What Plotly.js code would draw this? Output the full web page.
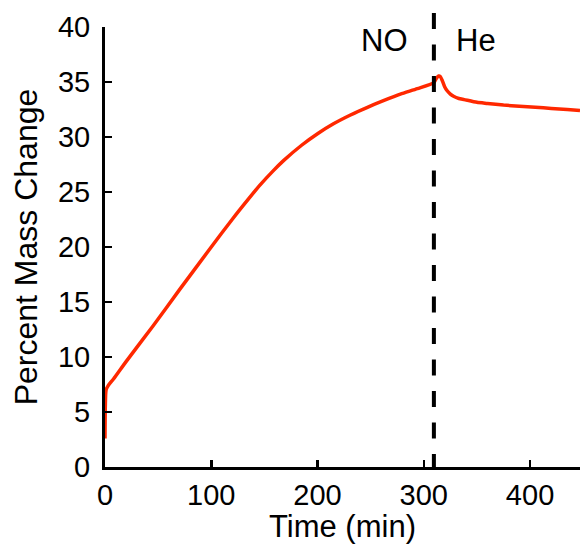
<!DOCTYPE html>
<html>
<head>
<meta charset="utf-8">
<script src="https://cdn.plot.ly/plotly-3.0.1.min.js"></script>
<style>html,body{margin:0;padding:0;background:#fff;}#chart{width:580px;height:544px;}</style>
</head>
<body>
<div id="chart"></div>
<script>
// Time (min)
const timeMin = [0, 0.3, 1, 3, 8, 20, 45, 70, 100, 120, 137, 146, 158, 168, 185, 200, 215, 231, 247, 262, 278, 294, 309.5,
  312, 314, 315.5, 317.5, 319.5, 322, 325, 328, 333, 338, 350, 360, 375, 390, 405, 420, 435, 447];
// Percent Mass Change
const massChange = [2.6, 5.5, 7.0, 7.4, 8.0, 9.6, 12.8, 16.1, 20.0, 22.55, 24.6, 25.65, 26.9, 27.85, 29.25, 30.3, 31.2, 32.0, 32.7, 33.3, 33.9, 34.4, 34.95,
  35.35, 35.55, 35.5, 35.1, 34.6, 34.2, 33.9, 33.7, 33.5, 33.4, 33.15, 33.05, 32.9, 32.8, 32.7, 32.6, 32.5, 32.4];
const switchTime = 309.5;
const gasLabels = ["NO", "He"];
const gasLabelX = [263, 349];

const font = "'Liberation Sans', Arial, Helvetica, sans-serif";

const trace = {
  x: timeMin, y: massChange, type: "scatter", mode: "lines",
  line: {color: "rgb(255,40,0)", width: 3.5, shape: "spline", smoothing: 0.6},
  hoverinfo: "skip"
};

const layout = {
  width: 580, height: 544,
  margin: {l: 105, r: 0, t: 27, b: 77},
  paper_bgcolor: "#fff", plot_bgcolor: "#fff",
  showlegend: false,
  font: {family: font, color: "#000", size: 29},
  xaxis: {
    range: [0, 447], tickvals: [0, 100, 200, 300, 400],
    showline: true, linecolor: "#000", linewidth: 3, mirror: false,
    ticks: "inside", ticklen: 7, tickwidth: 2.5, tickcolor: "#000",
    showgrid: false, zeroline: false,
    tickfont: {family: font, size: 29, color: "#000"},
    ticklabelstandoff: 0,
    title: {text: "Time (min)", font: {family: font, size: 31, color: "#000"}, standoff: 2}
  },
  yaxis: {
    range: [0, 40], tickvals: [0, 5, 10, 15, 20, 25, 30, 35, 40],
    showline: true, linecolor: "#000", linewidth: 3, mirror: false,
    ticks: "inside", ticklen: 7, tickwidth: 2.5, tickcolor: "#000",
    showgrid: false, zeroline: false,
    tickfont: {family: font, size: 29, color: "#000"},
    ticklabelstandoff: 6,
    title: {text: "Percent Mass Change", font: {family: font, size: 32, color: "#000"}, standoff: 11}
  },
  shapes: [{
    type: "line", xref: "x", yref: "paper",
    x0: switchTime, x1: switchTime, y0: 1.032, y1: 0,
    line: {color: "#000", width: 4, dash: "16px,15.5px"}
  }],
  annotations: gasLabels.map((t, i) => ({
    text: t, x: gasLabelX[i], y: 1.0, xref: "x", yref: "paper",
    xanchor: "center", yanchor: "middle", yshift: -13, showarrow: false,
    font: {family: font, size: 31, color: "#000"}
  }))
};

Plotly.newPlot("chart", [trace], layout, {staticPlot: true, displayModeBar: false});
</script>
</body>
</html>
